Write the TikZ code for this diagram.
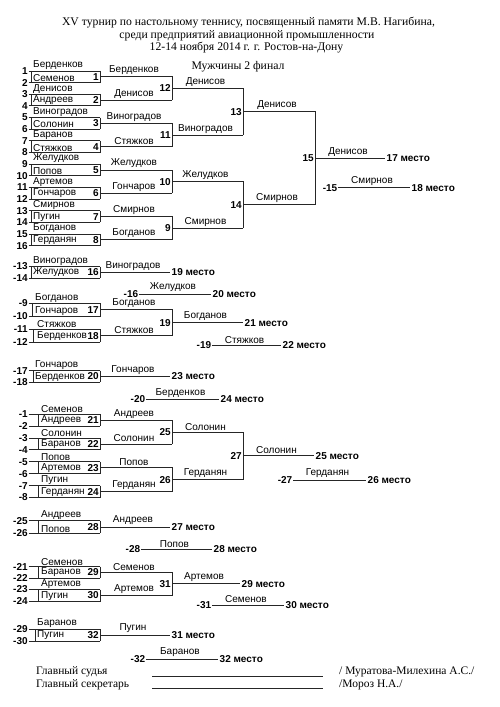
\documentclass[tikz,border=0pt]{standalone}
\usepackage{fontspec}
\setmainfont{Liberation Serif}
\newfontfamily\arialf{Liberation Sans}
\usetikzlibrary{calc}
% first-round box: id, y1, y2, seedA, seedB, nameA, nameB, box-left x, name x
\newcommand{\firstbox}[9]{%
  \pgfmathsetmacro{\ym}{(#2+#3)/2}%
  \node[seed] (s#1a) at (28.5,#2) {#4};
  \node[seed] (s#1b) at (28.5,#3) {#5};
  \coordinate (t#1) at (100,#2);
  \coordinate (u#1) at (100,#3);
  \coordinate (v#1) at (#8,#2);
  \coordinate (w#1) at (#8,#3);
  \coordinate (o#1) at (100,\ym);
  \draw[bl] (s#1a.east) -- (t#1);
  \draw[bl] (s#1b.east) -- (u#1);
  \draw[bl] (v#1) -- (w#1);
  \draw[bl] (t#1) -- (u#1);
  \node[nm] (na#1) at (#9,#2) {#6};
  \node[nm] (nb#1) at (#9,#3) {#7};
  \node[bn] (bn#1) at (o#1) {#1};
}
% join: id, box a, box b, x right, label a, label b
\newcommand{\joinbox}[6]{%
  \coordinate (xj#1) at (#4,0);
  \coordinate (ja#1) at (o#2 -| xj#1);
  \coordinate (jb#1) at (o#3 -| xj#1);
  \draw[bl] (o#2) -- node[lab]{#5} (ja#1) -- (jb#1);
  \draw[bl] (o#3) -- node[lab]{#6} (jb#1);
  \coordinate (o#1) at ($(ja#1)!0.5!(jb#1)$);
  \node[bn] (bn#1) at (o#1) {#1};
}
% final output: box id, length, label, place
\newcommand{\finalout}[4]{%
  \coordinate (e#1) at ($(o#1)+(#2,0)$);
  \draw[bl] (o#1) -- node[lab]{#3} (e#1);
  \node[place] (pw#1) at (e#1) {#4 место};
}
% loser line: id, x right of label, y, length, name, place
\newcommand{\loser}[6]{%
  \node[seed] (l#1) at (#2,#3) {-#1};
  \coordinate (le#1) at ($(l#1.east)+(#4,0)$);
  \draw[bl] (l#1.east) -- node[lab]{#5} (le#1);
  \node[place] (pl#1) at (le#1) {#6 место};
}
\begin{document}
\begin{tikzpicture}[x=1pt,y=-1pt,
  bl/.style={line width=0.9pt, draw=black!85},
  seed/.style={anchor=east, inner sep=0.6pt, font=\arialf\bfseries\fontsize{10}{12}\selectfont},
  nm/.style={anchor=south west, inner sep=0pt, yshift=1pt, font=\arialf\fontsize{10}{12}\selectfont},
  lab/.style={anchor=south, inner sep=0pt, yshift=1.5pt, xshift=-2pt, font=\arialf\fontsize{10}{12}\selectfont},
  bn/.style={anchor=east, inner sep=0pt, xshift=-1pt, font=\arialf\bfseries\fontsize{10}{12}\selectfont},
  place/.style={anchor=west, inner sep=1.5pt, font=\arialf\bfseries\fontsize{10}{12}\selectfont},
  ttl/.style={inner sep=0pt, font=\fontsize{11.7}{14}\selectfont},
  sig/.style={inner sep=0pt, anchor=west, font=\fontsize{11.5}{14}\selectfont}]
\fill[white] (0,0) rectangle (500,707);
\useasboundingbox (0,0) rectangle (500,707);

\node[ttl] (t1) at (248.5,23) {XV турнир по настольному теннису, посвященный памяти М.В. Нагибина,};
\node[ttl] (t2) at (247,35.5) {среди предприятий авиационной промышленности};
\node[ttl] (t3) at (246.5,48) {12-14 ноября 2014 г. г. Ростов-на-Дону};
\node[ttl] (t4) at (238,67) {Мужчины 2 финал};

% main bracket
\firstbox{1}{70.95}{82.6}{1}{2}{Берденков}{Семенов}{31}{33}
\firstbox{2}{94.25}{105.9}{3}{4}{Денисов}{Андреев}{31}{33}
\firstbox{3}{117.55}{129.2}{5}{6}{Виноградов}{Солонин}{31}{33}
\firstbox{4}{140.85}{152.5}{7}{8}{Баранов}{Стяжков}{31}{33}
\firstbox{5}{164.15}{175.8}{9}{10}{Желудков}{Попов}{31}{33}
\firstbox{6}{187.45}{199.1}{11}{12}{Артемов}{Гончаров}{31}{33}
\firstbox{7}{210.75}{222.4}{13}{14}{Смирнов}{Пугин}{31}{33}
\firstbox{8}{234.05}{245.7}{15}{16}{Богданов}{Герданян}{31}{33}
\joinbox{12}{1}{2}{172}{Берденков}{Денисов}
\joinbox{11}{3}{4}{172}{Виноградов}{Стяжков}
\joinbox{10}{5}{6}{172}{Желудков}{Гончаров}
\joinbox{9}{7}{8}{172}{Смирнов}{Богданов}
\joinbox{13}{12}{11}{243}{Денисов}{Виноградов}
\joinbox{14}{10}{9}{243}{Желудков}{Смирнов}
\joinbox{15}{13}{14}{315}{Денисов}{Смирнов}
\finalout{15}{70}{Денисов}{17}
\loser{15}{338}{187.7}{72}{Смирнов}{18}

% places 19-24
\firstbox{16}{266.5}{278}{-13}{-14}{Виноградов}{Желудков}{31}{33}
\finalout{16}{70}{Виноградов}{19}
\loser{16}{139}{294}{72}{Желудков}{20}
\firstbox{17}{303.3}{316.5}{-9}{-10}{Богданов}{Гончаров}{32}{35}
\firstbox{18}{329.2}{342}{-11}{-12}{Стяжков}{Берденков}{33}{37}
\joinbox{19}{17}{18}{172}{Богданов}{Стяжков}
\finalout{19}{71}{Богданов}{21}
\loser{19}{212}{345.5}{69}{Стяжков}{22}
\firstbox{20}{370.7}{382.3}{-17}{-18}{Гончаров}{Берденков}{33}{35}
\finalout{20}{70}{Гончаров}{23}
\loser{20}{146}{399.5}{73}{Берденков}{24}

% places 25-32
\firstbox{21}{414.2}{426.1}{-1}{-2}{Семенов}{Андреев}{38}{41}
\firstbox{22}{438}{449.9}{-3}{-4}{Солонин}{Баранов}{38}{41}
\firstbox{23}{461.8}{473.7}{-5}{-6}{Попов}{Артемов}{38}{41}
\firstbox{24}{485.6}{497.5}{-7}{-8}{Пугин}{Герданян}{38}{41}
\joinbox{25}{21}{22}{172}{Андреев}{Солонин}
\joinbox{26}{23}{24}{172}{Попов}{Герданян}
\joinbox{27}{25}{26}{243}{Солонин}{Герданян}
\finalout{27}{71}{Солонин}{25}
\loser{27}{293}{480}{73}{Герданян}{26}

\firstbox{28}{520.7}{533.3}{-25}{-26}{Андреев}{Попов}{38}{41}
\finalout{28}{70}{Андреев}{27}
\loser{28}{141}{549.3}{71}{Попов}{28}
\firstbox{29}{566.7}{578}{-21}{-22}{Семенов}{Баранов}{38}{41}
\firstbox{30}{589.5}{601.5}{-23}{-24}{Артемов}{Пугин}{38}{41}
\joinbox{31}{29}{30}{172}{Семенов}{Артемов}
\finalout{31}{68}{Артемов}{29}
\loser{31}{212}{605}{72}{Семенов}{30}
\firstbox{32}{629}{641}{-29}{-30}{Баранов}{Пугин}{35}{37}
\finalout{32}{70}{Пугин}{31}
\loser{32}{146}{659}{72}{Баранов}{32}

% signatures
\node[sig] (g1) at (36,672) {Главный судья};
\node[sig] (g2) at (36,685) {Главный секретарь};
\coordinate (g1a) at (152,676);
\coordinate (g1b) at (323,676);
\coordinate (g2a) at (152,688);
\coordinate (g2b) at (323,688);
\draw[bl] (g1a) -- (g1b);
\draw[bl] (g2a) -- (g2b);
\node[sig] (m1) at (339,672) {/ Муратова-Милехина А.С./};
\node[sig] (m2) at (339,685) {/Мороз Н.А./};
\end{tikzpicture}
\end{document}
